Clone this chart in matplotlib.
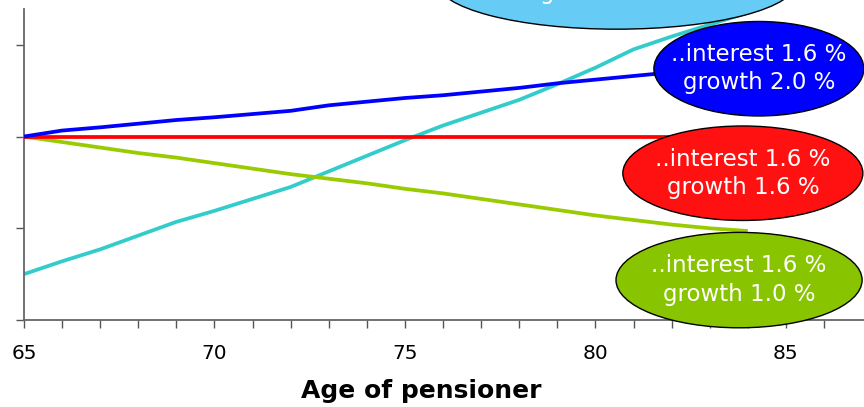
import numpy as np
import matplotlib
matplotlib.use("Agg")
import matplotlib.pyplot as plt
from matplotlib.patches import Ellipse

# Pension path relative to a flat (1.6 % / 1.6 %) profile, by age
ages = list(range(65, 85))
flat = [0.0] * 20
growth_20 = [0.00, 0.065, 0.10, 0.14, 0.18, 0.21, 0.245, 0.28, 0.34, 0.38,
             0.42, 0.45, 0.49, 0.53, 0.58, 0.62, 0.66, 0.70, 0.73, 0.77]
growth_10 = [0.00, -0.06, -0.12, -0.18, -0.23, -0.29, -0.35, -0.41, -0.46, -0.51,
             -0.57, -0.62, -0.68, -0.74, -0.80, -0.86, -0.91, -0.96, -1.00, -1.03]
high_rate = [-1.50, -1.36, -1.23, -1.08, -0.93, -0.81, -0.68, -0.55, -0.38, -0.21,
             -0.04, 0.12, 0.26, 0.40, 0.57, 0.75, 0.95, 1.09, 1.22, 1.35]

labels = ["..interest 4.0 %\ngrowth 1.6 %",
          "..interest 1.6 %\ngrowth 2.0 %",
          "..interest 1.6 %\ngrowth 1.6 %",
          "..interest 1.6 %\ngrowth 1.0 %"]

x_ticks = [65, 70, 75, 80, 85]

fig = plt.figure(figsize=(8.64, 4.07), dpi=100)
ax = fig.add_axes([24 / 864, 1 - 320 / 407, 1 - 24 / 864, 311 / 407])

lw = 2.7
ax.plot(ages, high_rate, color="#33CCCC", lw=lw, solid_capstyle="butt", zorder=2)
ax.plot(ages, growth_10, color="#99CC00", lw=lw, solid_capstyle="butt", zorder=2)
ax.plot(ages, flat, color="#FF0000", lw=lw, solid_capstyle="butt", zorder=3)
ax.plot(ages, growth_20, color="#0000FF", lw=lw, solid_capstyle="butt", zorder=4)

# bubble labels: (centre x, centre y, width, height, fill, text shift)
bubbles = [(80.56, 1.685, 9.45, 1.03, "#66CCF5", 0.035),
           (84.29, 0.739, 5.51, 1.03, "#0000FF", 0.0),
           (83.87, -0.40, 6.30, 1.03, "#FF1111", 0.0),
           (83.77, -1.565, 6.46, 1.04, "#88C400", 0.0)]
for (cx, cy, w, h, fc, dy), text in zip(bubbles, labels):
    ax.add_patch(Ellipse((cx, cy), w, h, facecolor=fc, edgecolor="black",
                         lw=1.0, zorder=5, clip_on=False))
    ax.text(cx, cy + dy, text, color="white", fontsize=16.5, ha="center",
            va="center", linespacing=1.3, zorder=6, clip_on=False)

ax.set_xlim(65, 87.05)
ax.set_ylim(-2, 1.39)
ax.set_xticks(x_ticks)
ax.set_xticks(range(65, 87), minor=True)
ax.set_yticks([-2, -1, 0, 1])
ax.set_yticklabels([])
ax.tick_params(axis="x", which="both", length=6, width=1, color="#555555",
               labelsize=14.5, pad=11)
ax.tick_params(axis="y", length=6, width=1, color="#555555")

for side in ["top", "right"]:
    ax.spines[side].set_visible(False)
for side in ["left", "bottom"]:
    ax.spines[side].set_color("#666666")
    ax.spines[side].set_linewidth(1.3)

ax.set_xlabel("Age of pensioner", fontsize=18, fontweight="bold")
ax.xaxis.set_label_coords((421 - 24) / 840, -0.19)

fig.savefig("out.png", dpi=100)
